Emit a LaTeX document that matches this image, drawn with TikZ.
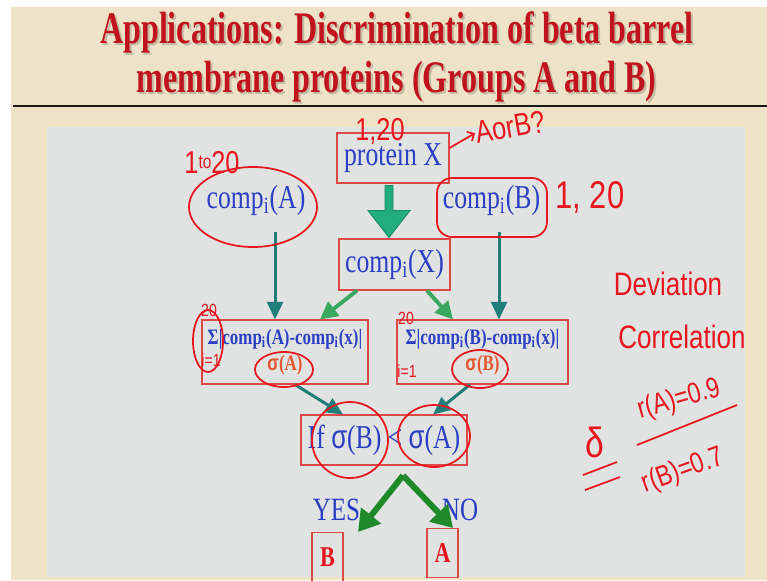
\documentclass[tikz,border=0pt]{standalone}
\usepackage{fontspec}
\setmainfont{Liberation Serif}[FakeStretch=0.77]
\newfontfamily\TitleFont{Liberation Serif}[FakeStretch=0.71]
\newfontfamily\SigmaFont{Liberation Sans}[FakeStretch=0.77]
\newfontfamily\HandFont{Liberation Sans}[FakeStretch=0.8]
\usetikzlibrary{
  arrows,
  calc,
  positioning,
  arrows.meta
}

\definecolor{slidebeige}{HTML}{EEE3C7}
\definecolor{panelgray}{HTML}{E1E2E2}
\definecolor{titlered}{HTML}{C0131D}
\definecolor{boxred}{HTML}{E04848}
\definecolor{textblue}{HTML}{2B3FC4}
\definecolor{resultred}{HTML}{E3141C}
\definecolor{sigmaorange}{HTML}{E4572E}
\definecolor{arrowteal}{HTML}{1F7F78}
\definecolor{arrowgreen}{HTML}{3AA85E}
\definecolor{blockgreen}{HTML}{22AD7F}
\definecolor{blockedge}{HTML}{178A62}
\definecolor{darkgreen}{HTML}{1E8A2A}
\definecolor{penred}{HTML}{E8161F}

\tikzset{
  titletext/.style={anchor=base,text=titlered,font=\TitleFont\bfseries\fontsize{25.7}{30}\selectfont},
  titleshadow/.style={titletext,text=black,opacity=0.18},
  redbox/.style={draw=boxred,line width=0.6pt,inner sep=0pt,text=textblue},
  bigtext/.style={text=textblue,font=\fontsize{19}{22}\selectfont},
  sumtext/.style={align=center,font=\bfseries\fontsize{12.5}{14.8}\selectfont},
  resultbox/.style={redbox,text=resultred,minimum width=0.62cm,minimum height=0.98cm,font=\bfseries\fontsize{16.3}{18}\selectfont},
  tealarrow/.style={-{Triangle[width=9pt,length=10pt]},arrowteal,line width=1.7pt},
  greenarrow/.style={-{Triangle[width=10pt,length=10pt]},arrowgreen,line width=2.2pt},
  resultarrow/.style={-{Triangle[width=14pt,length=12pt]},darkgreen,line width=3.4pt},
  pen/.style={penred,line width=1pt},
  pentext/.style={text=penred,inner sep=0pt,font=\HandFont\fontsize{18}{20}\selectfont}
}

\newcommand{\sig}{{\SigmaFont σ}}

\begin{document}
\begin{tikzpicture}
  \clip (0,0) rectangle (15.34,-11.6);
  \fill[white] (0,0) rectangle (15.34,-11.6);
  \fill[slidebeige] (0.22,-0.14) rectangle (15.34,-11.6);
  \fill[panelgray] (0.94,-2.54) rectangle (14.9,-11.54);

  % heading
  \node[titleshadow] at (7.98,-0.90) {Applications: Discrimination of beta barrel};
  \node[titleshadow] at (7.97,-1.88) {membrane proteins (Groups A and B)};
  \node[titletext] (TitleTop) at (7.94,-0.86) {Applications: Discrimination of beta barrel};
  \node[titletext] (TitleBottom) at (7.93,-1.84) {membrane proteins (Groups A and B)};
  \draw[line width=1.7pt,black!90] (0.26,-2.12) -- (15.34,-2.12);

  % flow chart
  \node[redbox,bigtext,minimum width=2.24cm,minimum height=1cm] (ProteinX) at (7.86,-3.16) {protein X};
  \node[bigtext] (CompA) at (5.12,-4.0) {comp\textsubscript{i}(A)};
  \node[bigtext] (CompB) at (9.83,-4.0) {comp\textsubscript{i}(B)};
  \node[redbox,bigtext,minimum width=2.22cm,minimum height=1.02cm] (CompX) at (7.89,-5.29) {comp\textsubscript{i}(X)};
  \node[redbox,sumtext,minimum width=3.32cm,minimum height=1.28cm] (SumA) at (5.70,-7.04)
    {Σ|comp\textsubscript{i}(A)-comp\textsubscript{i}(x)|\\\textcolor{sigmaorange}{\sig(A)}};
  \node[redbox,sumtext,minimum width=3.42cm,minimum height=1.28cm] (SumB) at (9.65,-7.04)
    {Σ|comp\textsubscript{i}(B)-comp\textsubscript{i}(x)|\\\textcolor{sigmaorange}{\sig(B)}};
  \node[redbox,bigtext,minimum width=3.32cm,minimum height=1cm] (Compare) at (7.68,-8.80) {If \sig(B) < \sig(A)};
  \node[bigtext,font=\fontsize{18.5}{20}\selectfont] (Yes) at (6.73,-10.2) {YES};
  \node[bigtext,font=\fontsize{18.5}{20}\selectfont] (No) at (9.2,-10.2) {NO};
  \node[resultbox] (ResultB) at (6.55,-11.14) {B};
  \node[resultbox] (ResultA) at (8.85,-11.06) {A};

  \fill[blockgreen,draw=blockedge,line width=0.5pt] ([xshift=-0.16cm,yshift=-0.04cm]ProteinX.south)
    -- ++(0,-0.5) -- ++(-0.34,0) -- ++(0.42,-0.54) -- ++(0.42,0.54) -- ++(-0.34,0) -- ++(0,0.5) -- cycle;
  \draw[tealarrow] ([xshift=0.38cm,yshift=-0.22cm]CompA.south) -- ([xshift=-0.2cm]SumA.north);
  \draw[tealarrow] ([xshift=0.15cm,yshift=-0.22cm]CompB.south) -- ([xshift=0.33cm]SumB.north);
  \draw[greenarrow] ([xshift=-0.75cm]CompX.south) -- ([xshift=0.7cm]SumA.north);
  \draw[greenarrow] ([xshift=0.65cm]CompX.south) -- ([xshift=-0.59cm]SumB.north);
  \draw[tealarrow] ([xshift=0.2cm]SumA.south) -- ([xshift=-0.82cm]Compare.north);
  \draw[tealarrow] ([xshift=-0.25cm]SumB.south) -- ([xshift=0.98cm]Compare.north);
  \coordinate (Split) at ([xshift=0.38cm,yshift=-0.2cm]Compare.south);
  \draw[resultarrow] (Split) -- ([xshift=0.61cm]ResultB.north);
  \draw[resultarrow] (Split) -- ([xshift=0.21cm]ResultA.north);

  % pen notes
  \node[pentext] (RangeA) at (4.24,-3.26) {1\raisebox{0.35ex}{\fontsize{11}{12}\selectfont to}20};
  \node[pentext] (RangeX) at (7.6,-2.62) {1,20};
  \node[pentext,rotate=10] (Question) at (10.2,-2.54) {AorB?};
  \draw[pen,-{Straight Barb[length=3pt]}] ([yshift=0.2cm]ProteinX.east) -- (Question.west);
  \node[pentext,font=\HandFont\fontsize{22}{24}\selectfont] (RangeB) at (11.8,-3.94) {1, 20};
  \node[pentext,font=\HandFont\fontsize{18.5}{20}\selectfont] (Deviation) at (13.36,-5.68) {Deviation};
  \node[pentext,font=\HandFont\fontsize{18.5}{20}\selectfont] (Correlation) at (13.64,-6.74) {Correlation};
  \node[pentext,font=\HandFont\fontsize{24}{26}\selectfont] (Delta) at (11.9,-8.84) {δ};
  \node[pentext,font=\HandFont\fontsize{16.5}{18}\selectfont,rotate=16] (CorrA) at (13.58,-8.0) {r(A)=0.9};
  \node[pentext,font=\HandFont\fontsize{16.5}{18}\selectfont,rotate=20] (CorrB) at (13.66,-9.42) {r(B)=0.7};
  \draw[pen] ($(CorrA)+(-0.84,-0.9)$) -- ($(CorrA)+(1.16,-0.1)$);
  \draw[pen] ($(Delta)+(-0.24,-0.66)$) -- ($(Delta)+(0.44,-0.4)$);
  \draw[pen] ($(Delta)+(-0.2,-0.96)$) -- ($(Delta)+(0.5,-0.7)$);
  \node[pentext,font=\HandFont\fontsize{10}{11}\selectfont] (TopA) at (4.18,-6.2) {20};
  \node[pentext,font=\HandFont\fontsize{10}{11}\selectfont] (LowA) at (4.22,-7.2) {i=1};
  \node[pentext,font=\HandFont\fontsize{10}{11}\selectfont] (TopB) at (8.12,-6.36) {20};
  \node[pentext,font=\HandFont\fontsize{10}{11}\selectfont] (LowB) at (8.14,-7.42) {i=1};

  \draw[pen] ([shift={(-0.06,-0.14)}]CompA.center) ellipse [x radius=1.28cm, y radius=0.8cm];
  \draw[pen,rounded corners=0.3cm] ([shift={(-1.09,0.44)}]CompB.center) rectangle ([shift={(1.11,-0.74)}]CompB.center);
  \draw[pen] ([shift={(-1.54,0.22)}]SumA.center) ellipse [x radius=0.3cm, y radius=0.62cm];
  \draw[pen] ([shift={(-0.02,-0.35)}]SumA.center) ellipse [x radius=0.58cm, y radius=0.35cm];
  \draw[pen] ([shift={(-0.05,-0.34)}]SumB.center) ellipse [x radius=0.56cm, y radius=0.38cm];
  \draw[pen] ([shift={(-0.68,0)}]Compare.center) ellipse [x radius=0.76cm, y radius=0.76cm];
  \draw[pen] ([shift={(1.0,0.08)}]Compare.center) ellipse [x radius=0.72cm, y radius=0.62cm];
\end{tikzpicture}
\end{document}
